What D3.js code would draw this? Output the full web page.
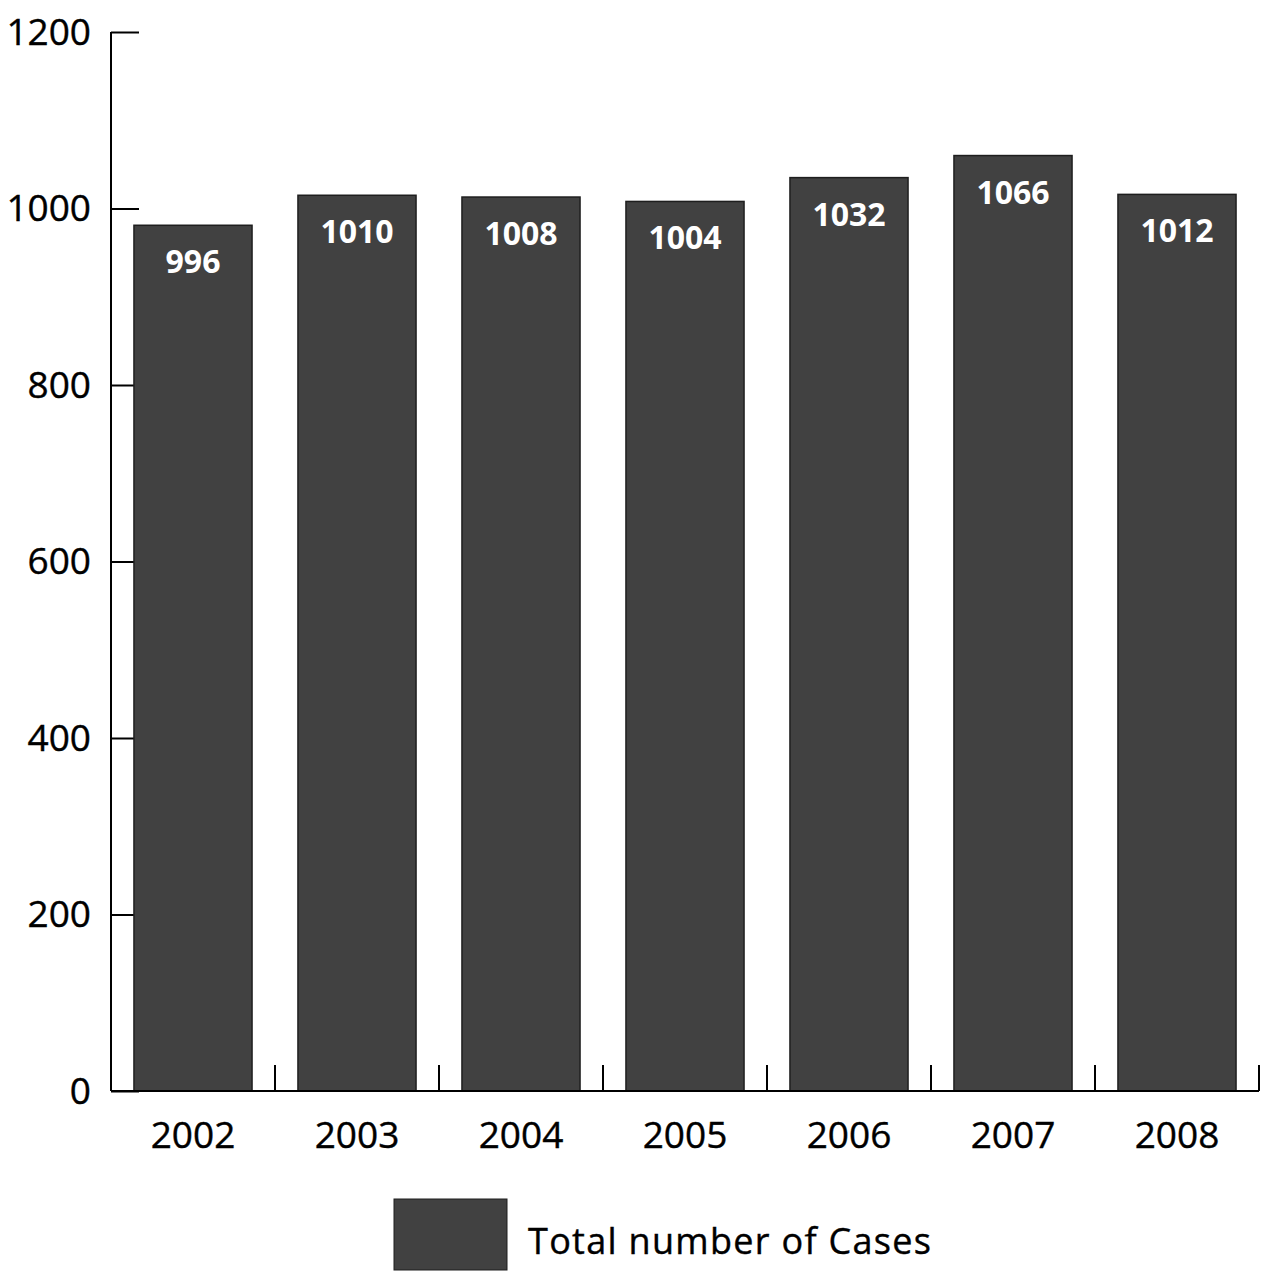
<!DOCTYPE html>
<html>
<head>
<meta charset="utf-8">
<script src="https://cdn.jsdelivr.net/npm/d3@7/dist/d3.min.js"></script>
<style>
  html, body { margin: 0; padding: 0; background: #fff; }
  svg { display: block; font-family: "Open Sans", "Noto Sans", sans-serif; }
</style>
</head>
<body>
<svg id="chart" width="1265" height="1278"></svg>
<script>
// Data
const years = ["2002", "2003", "2004", "2005", "2006", "2007", "2008"];
const barValues = [981, 1015, 1013, 1008, 1035, 1060, 1016];   // bar heights as drawn
const valueLabels = ["996", "1010", "1008", "1004", "1032", "1066", "1012"]; // printed labels
const yTicks = [0, 200, 400, 600, 800, 1000, 1200];
const seriesName = "Total number of Cases";

(function () {
  const svg = d3.select("#chart");
  const plotLeft = 111, plotRight = 1259, plotTop = 32, plotBottom = 1091;
  const barFill = "#414141";

  const x = d3.scaleBand().domain(years).range([plotLeft, plotRight]).paddingInner(0.28).paddingOuter(0.14);
  const y = d3.scaleLinear().domain([0, 1200]).range([plotBottom, plotTop]);

  // y ticks (inward), drawn beneath bars
  const yAxis = svg.append("g").attr("transform", `translate(${plotLeft},0)`)
    .call(d3.axisRight(y).tickValues(yTicks).tickSize(28).tickFormat(""));
  yAxis.select(".domain").remove();
  yAxis.selectAll(".tick line").attr("stroke", "#000").attr("stroke-width", 2);

  // y tick labels
  svg.append("g").selectAll("text").data(yTicks).join("text")
    .attr("x", plotLeft - 20).attr("y", d => y(d)).attr("dy", "0.34em")
    .attr("text-anchor", "end").attr("font-size", 37).attr("fill", "#000")
    .attr("stroke", "#000").attr("stroke-width", 0.4)
    .text(d => d);

  // bars
  svg.append("g").selectAll("rect").data(years).join("rect")
    .attr("x", d => x(d)).attr("width", x.bandwidth())
    .attr("y", (d, i) => y(barValues[i]))
    .attr("height", (d, i) => y(0) - y(barValues[i]))
    .attr("fill", barFill).attr("stroke", "#1e1e1e").attr("stroke-width", 1.5);

  // value labels
  svg.append("g").selectAll("text").data(years).join("text")
    .attr("x", d => x(d) + x.bandwidth() / 2)
    .attr("y", (d, i) => y(barValues[i]) + 48)
    .attr("text-anchor", "middle").attr("font-size", 32).attr("font-weight", "bold")
    .attr("fill", "#fff")
    .text((d, i) => valueLabels[i]);

  // y axis line
  svg.append("line").attr("x1", plotLeft).attr("x2", plotLeft).attr("y1", y(1200)).attr("y2", y(0))
    .attr("stroke", "#000").attr("stroke-width", 2);

  // x axis line and boundary ticks
  svg.append("line").attr("x1", plotLeft).attr("x2", plotRight).attr("y1", y(0)).attr("y2", y(0))
    .attr("stroke", "#000").attr("stroke-width", 2);
  const step = x.step();
  const boundaries = years.map((d, i) => plotLeft + step * (i + 1));
  svg.append("g").selectAll("line").data(boundaries).join("line")
    .attr("x1", d => d).attr("x2", d => d)
    .attr("y1", y(0)).attr("y2", y(0) - 26)
    .attr("stroke", "#000").attr("stroke-width", 2);

  // x tick labels
  svg.append("g").selectAll("text").data(years).join("text")
    .attr("x", d => x(d) + x.bandwidth() / 2).attr("y", y(0) + 57)
    .attr("text-anchor", "middle").attr("font-size", 37).attr("fill", "#000")
    .attr("stroke", "#000").attr("stroke-width", 0.4)
    .text(d => d);

  // legend
  const lg = svg.append("g");
  lg.append("rect").attr("x", 394).attr("y", 1199).attr("width", 113).attr("height", 71)
    .attr("fill", barFill).attr("stroke", "#1e1e1e").attr("stroke-width", 1);
  lg.append("text").attr("x", 528).attr("y", 1254).attr("font-size", 36).attr("fill", "#000")
    .attr("stroke", "#000").attr("stroke-width", 0.4)
    .attr("textLength", 403).attr("lengthAdjust", "spacing")
    .text(seriesName);
})();
</script>
</body>
</html>
